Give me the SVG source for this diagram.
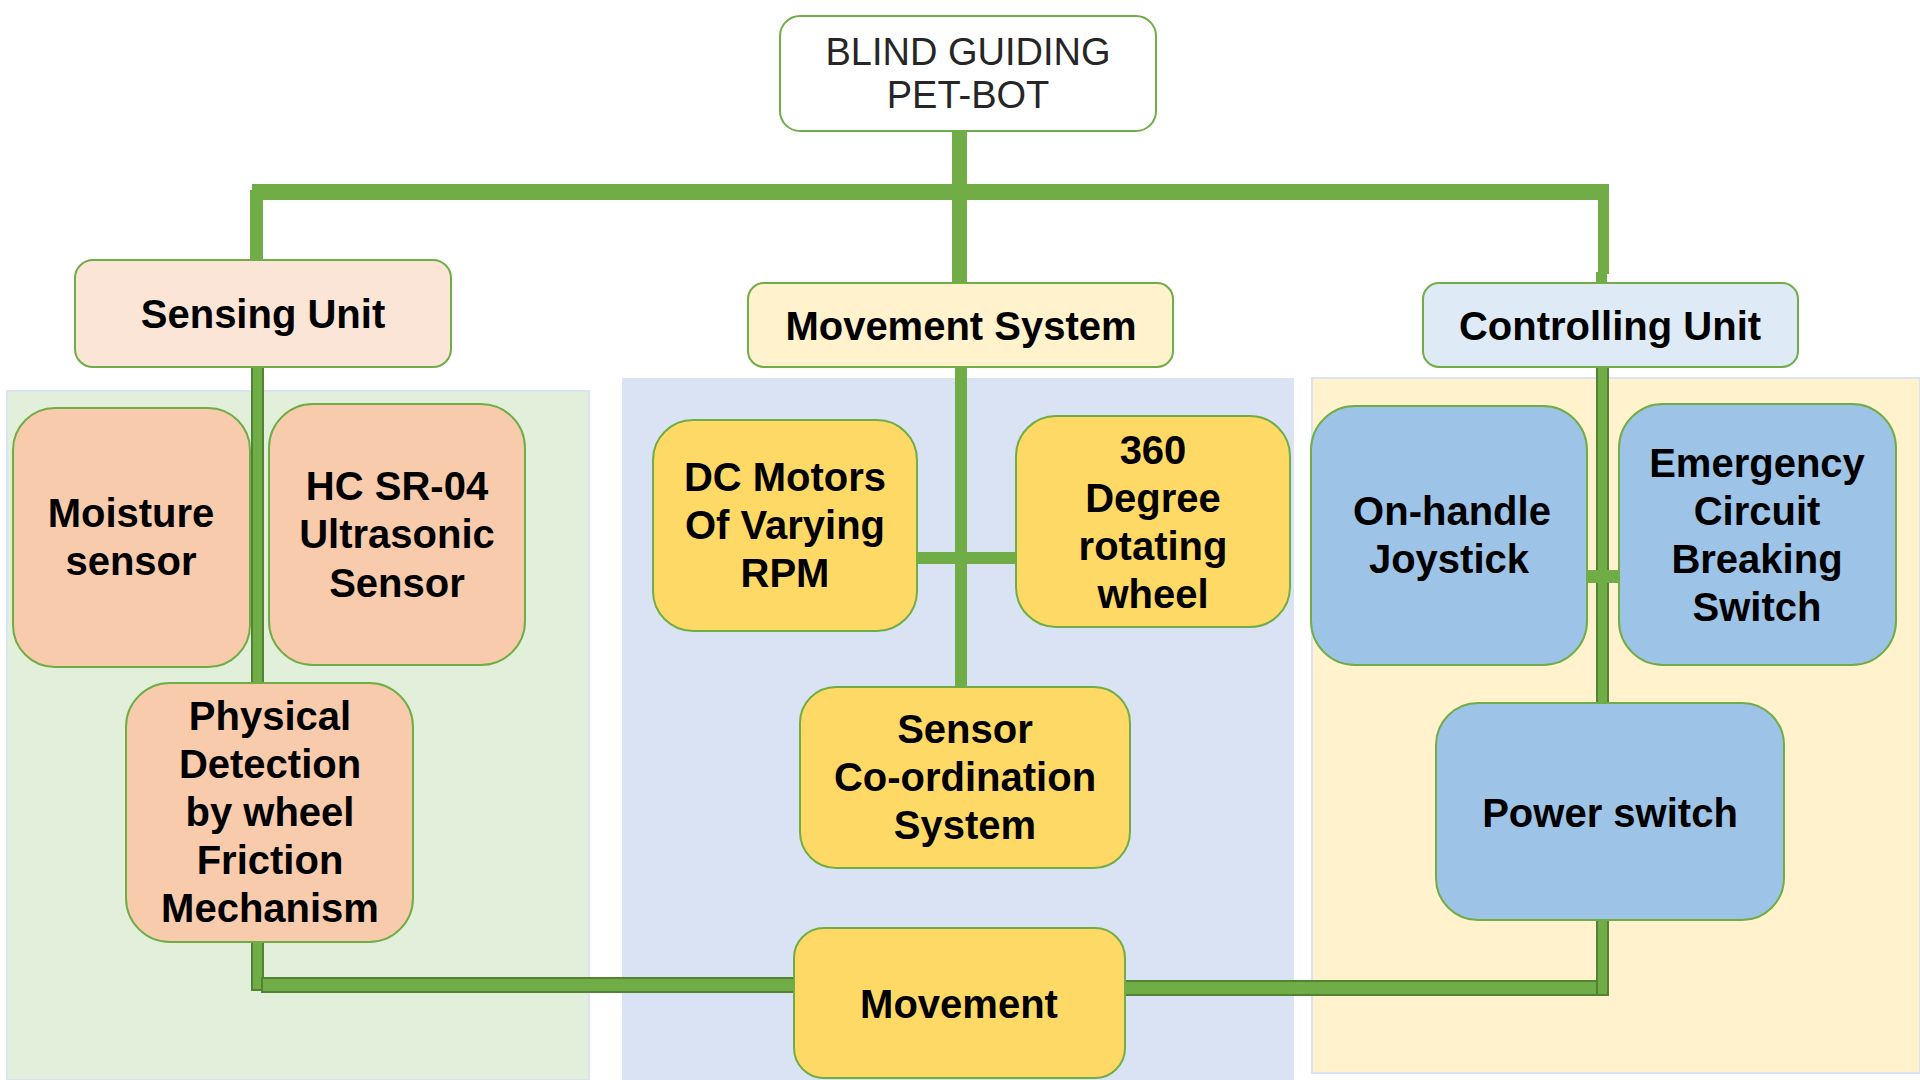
<svg xmlns="http://www.w3.org/2000/svg" width="1920" height="1080" viewBox="0 0 1920 1080">
<style>
  .t { font-family: "Liberation Sans", Arial, sans-serif; font-weight: bold; font-size: 40px; fill: #000; text-anchor: middle; }
  .title { font-family: "Liberation Sans", Arial, sans-serif; font-weight: normal; font-size: 38px; fill: #262626; text-anchor: middle; }
  .nb { stroke: #70AD47; stroke-width: 2; }
  .c { fill: #70AD47; }
  .co { fill: #70AD47; stroke: #548235; stroke-width: 2; }
</style>
<rect width="1920" height="1080" fill="#FFFFFF"/>
<g id="panels">
  <rect x="7" y="391" width="582" height="689" fill="#E2EFDA" stroke="#DAE3F3" stroke-width="2"/>
  <rect x="622" y="378" width="672" height="702" fill="#DAE3F3"/>
  <rect x="1312" y="378" width="608" height="695" fill="#FFF2CC" stroke="#DAE3F3" stroke-width="2"/>
</g>
<g id="connectors">
  <rect class="c" x="952" y="130" width="15" height="155"/>
  <rect class="c" x="252" y="184" width="1357" height="16"/>
  <rect class="c" x="250" y="190" width="13" height="72"/>
  <rect class="c" x="1598" y="190" width="11" height="84"/>
  <rect class="c" x="1596" y="272" width="11" height="13"/>
  <rect class="co" x="252" y="366" width="11" height="320"/>
  <rect class="co" x="252" y="940" width="11" height="50"/>
  <rect class="co" x="262" y="978" width="534" height="14"/>
  <rect class="c" x="955" y="366" width="12" height="323"/>
  <rect class="c" x="915" y="552" width="103" height="12"/>
  <rect class="co" x="1597" y="366" width="11" height="339"/>
  <rect class="c" x="1585" y="570" width="36" height="13"/>
  <rect class="co" x="1123" y="981" width="484" height="14"/>
  <rect class="co" x="1597" y="918" width="11" height="77"/>
</g>
<g id="title">
  <rect class="nb" x="780" y="16" width="376" height="115" rx="20" fill="#FFFFFF"/>
  <text class="title" x="968" y="65">BLIND GUIDING</text>
  <text class="title" x="968" y="108">PET-BOT</text>
</g>
<g id="sensing-unit">
  <rect class="nb" x="75" y="260" width="376" height="107" rx="18" fill="#FBE5D6"/>
  <text class="t" x="263" y="328">Sensing Unit</text>
</g>
<g id="movement-system">
  <rect class="nb" x="748" y="283" width="425" height="84" rx="16" fill="#FFF2CC"/>
  <text class="t" x="961" y="340">Movement System</text>
</g>
<g id="controlling-unit">
  <rect class="nb" x="1423" y="283" width="375" height="84" rx="16" fill="#DEEBF7"/>
  <text class="t" x="1610" y="340">Controlling Unit</text>
</g>
<g id="moisture-sensor">
  <rect class="nb" x="13" y="408" width="237" height="259" rx="42" fill="#F8CBAD"/>
  <text class="t" x="131" y="527">Moisture</text>
  <text class="t" x="131" y="575">sensor</text>
</g>
<g id="ultrasonic-sensor">
  <rect class="nb" x="269" y="404" width="256" height="261" rx="44" fill="#F8CBAD"/>
  <text class="t" x="397" y="500">HC SR-04</text>
  <text class="t" x="397" y="548">Ultrasonic</text>
  <text class="t" x="397" y="597">Sensor</text>
</g>
<g id="physical-detection">
  <rect class="nb" x="126" y="683" width="287" height="259" rx="44" fill="#F8CBAD"/>
  <text class="t" x="270" y="730">Physical</text>
  <text class="t" x="270" y="778">Detection</text>
  <text class="t" x="270" y="826">by wheel</text>
  <text class="t" x="270" y="874">Friction</text>
  <text class="t" x="270" y="922">Mechanism</text>
</g>
<g id="dc-motors">
  <rect class="nb" x="653" y="420" width="264" height="211" rx="40" fill="#FFD966"/>
  <text class="t" x="785" y="491">DC Motors</text>
  <text class="t" x="785" y="539">Of Varying</text>
  <text class="t" x="785" y="587">RPM</text>
</g>
<g id="rotating-wheel">
  <rect class="nb" x="1016" y="416" width="274" height="211" rx="40" fill="#FFD966"/>
  <text class="t" x="1153" y="464">360</text>
  <text class="t" x="1153" y="512">Degree</text>
  <text class="t" x="1153" y="560">rotating</text>
  <text class="t" x="1153" y="608">wheel</text>
</g>
<g id="sensor-coordination">
  <rect class="nb" x="800" y="687" width="330" height="181" rx="36" fill="#FFD966"/>
  <text class="t" x="965" y="743">Sensor</text>
  <text class="t" x="965" y="791">Co-ordination</text>
  <text class="t" x="965" y="839">System</text>
</g>
<g id="movement">
  <rect class="nb" x="794" y="928" width="331" height="150" rx="30" fill="#FFD966"/>
  <text class="t" x="959" y="1018">Movement</text>
</g>
<g id="joystick">
  <rect class="nb" x="1311" y="406" width="276" height="259" rx="44" fill="#9DC3E6"/>
  <text class="t" x="1452" y="525">On-handle</text>
  <text class="t" x="1449" y="573">Joystick</text>
</g>
<g id="emergency-switch">
  <rect class="nb" x="1619" y="404" width="277" height="261" rx="44" fill="#9DC3E6"/>
  <text class="t" x="1757" y="477">Emergency</text>
  <text class="t" x="1757" y="525">Circuit</text>
  <text class="t" x="1757" y="573">Breaking</text>
  <text class="t" x="1757" y="621">Switch</text>
</g>
<g id="power-switch">
  <rect class="nb" x="1436" y="703" width="348" height="217" rx="42" fill="#9DC3E6"/>
  <text class="t" x="1610" y="827">Power switch</text>
</g>
</svg>
